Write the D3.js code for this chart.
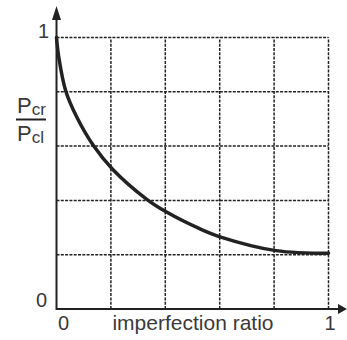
<!DOCTYPE html>
<html>
<head>
<script src="https://d3js.org/d3.v7.min.js"></script>
<style>
  body { margin: 0; background: #fff; }
  text { font-family: "Liberation Sans", Arial, sans-serif; fill: #3a3a3a; }
</style>
</head>
<body>
<div id="chart"></div>
<script>
// curve
var ratioX = [0, 0.008, 0.034, 0.074, 0.135, 0.207, 0.332, 0.403, 0.528, 0.604, 0.807, 1.0];
var loadRatio = [1.0, 0.93, 0.803, 0.708, 0.603, 0.514, 0.404, 0.358, 0.295, 0.265, 0.215, 0.205];
var gridTicks = [0.2, 0.4, 0.6, 0.8, 1.0];
var xTickLabels = ["0", "1"];
var yTickLabels = ["0", "1"];

var width = 347, height = 340;
var svg = d3.select("#chart").append("svg")
    .attr("width", width)
    .attr("height", height);

var x = d3.scaleLinear().domain([0, 1]).range([56.5, 328.5]);
var y = d3.scaleLinear().domain([0, 1]).range([309, 37.5]);

// dashed grid
var grid = svg.append("g")
    .attr("stroke", "#222")
    .attr("stroke-width", 1.5)
    .attr("stroke-dasharray", "3,1.3");
grid.selectAll("line.h")
    .data(gridTicks)
    .enter().append("line")
    .attr("class", "h")
    .attr("x1", x(0)).attr("x2", x(1))
    .attr("y1", function(d) { return y(d); })
    .attr("y2", function(d) { return y(d); });
grid.selectAll("line.v")
    .data(gridTicks)
    .enter().append("line")
    .attr("class", "v")
    .attr("y1", y(0)).attr("y2", y(1))
    .attr("x1", function(d) { return x(d); })
    .attr("x2", function(d) { return x(d); });

// axes with arrow heads
var axes = svg.append("g");
axes.append("line")
    .attr("x1", x(0)).attr("x2", 340)
    .attr("y1", y(0)).attr("y2", y(0))
    .attr("stroke", "#222").attr("stroke-width", 2);
axes.append("path")
    .attr("d", "M" + 347 + "," + y(0) + "L" + 338 + "," + (y(0) - 5) + "L" + 338 + "," + (y(0) + 5) + "Z")
    .attr("fill", "#222");
axes.append("line")
    .attr("x1", x(0)).attr("x2", x(0))
    .attr("y1", y(0) + 1).attr("y2", 18)
    .attr("stroke", "#222").attr("stroke-width", 2);
axes.append("path")
    .attr("d", "M" + x(0) + "," + 6 + "L" + (x(0) - 4.5) + "," + 20 + "L" + (x(0) + 4.5) + "," + 20 + "Z")
    .attr("fill", "#222");

// the curve
var line = d3.line()
    .x(function(d) { return x(d[0]); })
    .y(function(d) { return y(d[1]); })
    .curve(d3.curveCatmullRom.alpha(0.5));
svg.append("path")
    .datum(d3.zip(ratioX, loadRatio))
    .attr("d", line)
    .attr("fill", "none")
    .attr("stroke", "#222")
    .attr("stroke-width", 3.5)
    .attr("stroke-linecap", "round");

// tick labels
svg.selectAll("text.xt")
    .data(xTickLabels)
    .enter().append("text")
    .attr("class", "xt")
    .attr("x", function(d, i) { return x(+d) + (i == 0 ? 7 : 1.5); })
    .attr("y", 330)
    .attr("text-anchor", "middle")
    .attr("font-size", 20)
    .text(function(d) { return d; });
svg.selectAll("text.yt")
    .data(yTickLabels)
    .enter().append("text")
    .attr("class", "yt")
    .attr("x", function(d, i) { return i == 0 ? 47 : 49; })
    .attr("y", function(d, i) { return y(+d) - (i == 0 ? 2 : 0); })
    .attr("text-anchor", "end")
    .attr("font-size", 20)
    .text(function(d) { return d; });

// axis title
svg.append("text")
    .attr("x", 193)
    .attr("y", 330)
    .attr("text-anchor", "middle")
    .attr("font-size", 21)
    .text("imperfection ratio");

// y label as a fraction
var frac = svg.append("g");
var numer = frac.append("text").attr("x", 17).attr("y", 113.3).attr("font-size", 22);
numer.append("tspan").text("P");
numer.append("tspan").attr("font-size", 17).attr("dy", 2).text("cr");
frac.append("line")
    .attr("x1", 16).attr("x2", 46)
    .attr("y1", 119.5).attr("y2", 119.5)
    .attr("stroke", "#222").attr("stroke-width", 2);
var denom = frac.append("text").attr("x", 17).attr("y", 141).attr("font-size", 22);
denom.append("tspan").text("P");
denom.append("tspan").attr("font-size", 17).attr("dy", 2).text("cl");
</script>
</body>
</html>
